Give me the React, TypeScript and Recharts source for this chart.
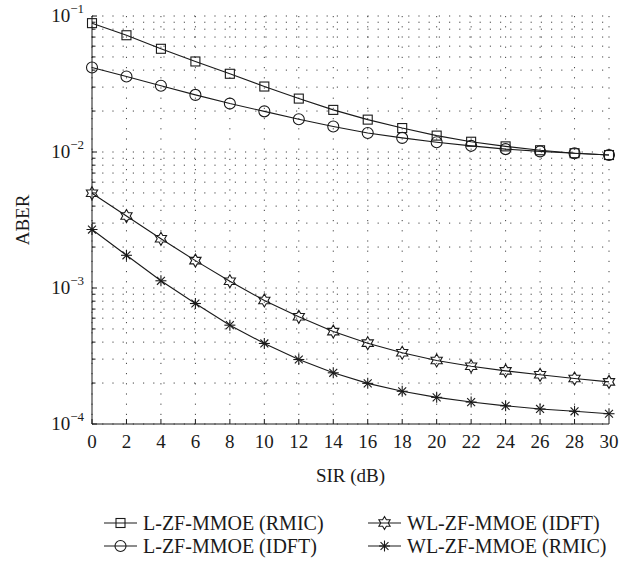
import React from 'react';
import { LineChart, Line, XAxis, YAxis, CartesianGrid, Legend } from 'recharts';

const sirDb = [0, 2, 4, 6, 8, 10, 12, 14, 16, 18, 20, 22, 24, 26, 28, 30];

const lzfRmic = [0.0886, 0.0722, 0.0574, 0.0463, 0.0376, 0.0303, 0.0247, 0.0204, 0.0173, 0.015, 0.0132, 0.0119, 0.011, 0.0103, 0.0098, 0.0095];
const lzfIdft = [0.0418, 0.0359, 0.0307, 0.0263, 0.0227, 0.0199, 0.0174, 0.0154, 0.0138, 0.0127, 0.0118, 0.0111, 0.0105, 0.0101, 0.0098, 0.0095];
const wlzfIdft = [0.00498, 0.00338, 0.0023, 0.00159, 0.00112, 0.00081, 0.000614, 0.000478, 0.000393, 0.000334, 0.000293, 0.000266, 0.000246, 0.00023, 0.000216, 0.000204];
const wlzfRmic = [0.00269, 0.00174, 0.00113, 0.000769, 0.000533, 0.000391, 0.000298, 0.000238, 0.000199, 0.000174, 0.000157, 0.000145, 0.000136, 0.000129, 0.000124, 0.000119];

const yTicks = [
  0.0001, 0.0002, 0.0003, 0.0004, 0.0005, 0.0006, 0.0007, 0.0008, 0.0009,
  0.001, 0.002, 0.003, 0.004, 0.005, 0.006, 0.007, 0.008, 0.009,
  0.01, 0.02, 0.03, 0.04, 0.05, 0.06, 0.07, 0.08, 0.09, 0.1,
];
const decadeLabels: Record<string, string> = { '0.0001': '−4', '0.001': '−3', '0.01': '−2', '0.1': '−1' };

const data = sirDb.map((sir, i) => ({
  sir,
  lRmic: lzfRmic[i],
  lIdft: lzfIdft[i],
  wlIdft: wlzfIdft[i],
  wlRmic: wlzfRmic[i],
}));

const INK = '#1a1a1a';
const FONT = 'Liberation Serif';
const txt = { fontFamily: FONT };

type Shape = 'square' | 'circle' | 'hexagram' | 'asterisk';

const Marker = ({ cx, cy, shape }: { cx: number; cy: number; shape: Shape }) => {
  if (shape === 'square') {
    return <rect x={cx - 4.5} y={cy - 4.5} width={9} height={9} fill="none" stroke={INK} strokeWidth={1.1} />;
  }
  if (shape === 'circle') {
    return <circle cx={cx} cy={cy} r={5.5} fill="none" stroke={INK} strokeWidth={1.1} />;
  }
  if (shape === 'hexagram') {
    const r = 6.5;
    const ri = r / Math.sqrt(3);
    const pts: string[] = [];
    for (let k = 0; k < 12; k++) {
      const a = (Math.PI / 6) * k - Math.PI / 2;
      const rr = k % 2 === 0 ? r : ri;
      pts.push(`${cx + rr * Math.cos(a)},${cy + rr * Math.sin(a)}`);
    }
    return <polygon points={pts.join(' ')} fill="none" stroke={INK} strokeWidth={1.1} />;
  }
  const r = 5.5;
  const d = r * 0.72;
  return (
    <g stroke={INK} strokeWidth={1.1}>
      <line x1={cx} y1={cy - r} x2={cx} y2={cy + r} />
      <line x1={cx - r} y1={cy} x2={cx + r} y2={cy} />
      <line x1={cx - d} y1={cy - d} x2={cx + d} y2={cy + d} />
      <line x1={cx - d} y1={cy + d} x2={cx + d} y2={cy - d} />
    </g>
  );
};

const dotOf = (shape: Shape) => (props: any) => (
  <Marker key={`${shape}-${props.index}`} cx={props.cx} cy={props.cy} shape={shape} />
);

const LeftTick = (props: any) => {
  const { x, y, payload } = props;
  const sup = decadeLabels[String(payload.value)];
  return (
    <g>
      <line x1={x} y1={y} x2={x + (sup ? 5 : 3.5)} y2={y} stroke={INK} strokeWidth={1} />
      {sup && (
        <text x={x - 8} y={y + 6} textAnchor="end" style={txt} fontSize={19} fill={INK}>
          10<tspan dy={-9} fontSize={13}>{sup}</tspan>
        </text>
      )}
    </g>
  );
};

const RightTick = (props: any) => {
  const { x, y, payload } = props;
  const major = !!decadeLabels[String(payload.value)];
  return <line x1={x} y1={y} x2={x - (major ? 5 : 3.5)} y2={y} stroke={INK} strokeWidth={1} />;
};

const BottomTick = (props: any) => {
  const { x, y, payload } = props;
  return (
    <g>
      <line x1={x} y1={y} x2={x} y2={y - 5} stroke={INK} strokeWidth={1} />
      <text x={x} y={y + 24} textAnchor="middle" style={txt} fontSize={19} fill={INK}>
        {payload.value}
      </text>
    </g>
  );
};

const TopTick = (props: any) => {
  const { x, y } = props;
  return <line x1={x} y1={y} x2={x} y2={y + 5} stroke={INK} strokeWidth={1} />;
};

const legendItems: Array<{ label: string; shape: Shape }> = [
  { label: 'L-ZF-MMOE (RMIC)', shape: 'square' },
  { label: 'WL-ZF-MMOE (IDFT)', shape: 'hexagram' },
  { label: 'L-ZF-MMOE (IDFT)', shape: 'circle' },
  { label: 'WL-ZF-MMOE (RMIC)', shape: 'asterisk' },
];

const LegendBox = () => (
  <svg width={623} height={56} style={{ display: 'block' }}>
    {legendItems.map((item, i) => {
      const col = i % 2;
      const row = Math.floor(i / 2);
      const x0 = col === 0 ? 92 : 356;
      const cy = 13 + row * 23;
      return (
        <g key={item.label}>
          <line x1={x0} y1={cy} x2={x0 + 33} y2={cy} stroke={INK} strokeWidth={1.1} />
          <Marker cx={x0 + 16.5} cy={cy} shape={item.shape} />
          <text x={x0 + 39} y={cy + 6.5} style={txt} fontSize={20} fill={INK}>
            {item.label}
          </text>
        </g>
      );
    })}
  </svg>
);

export default function App() {
  return (
    <div style={{ position: 'absolute', left: 0, top: 0, background: '#fff', fontFamily: FONT }}>
      <LineChart width={623} height={562} data={data} margin={{ top: 16, right: 14, left: 12, bottom: 0 }}>
        <CartesianGrid xAxisId="b" yAxisId="l" stroke="#444" strokeDasharray="1.2 9" strokeWidth={1} />
        <XAxis
          xAxisId="b"
          dataKey="sir"
          type="number"
          domain={[0, 30]}
          ticks={sirDb}
          interval={0}
          height={60}
          tickLine={false}
          tickSize={0}
          tickMargin={0}
          axisLine={{ stroke: INK }}
          tick={<BottomTick />}
          label={{ value: 'SIR (dB)', position: 'insideBottom', offset: 2, style: txt, fontSize: 19, fill: INK }}
        />
        <XAxis
          xAxisId="t"
          orientation="top"
          dataKey="sir"
          type="number"
          domain={[0, 30]}
          ticks={sirDb}
          interval={0}
          height={0}
          tickLine={false}
          tickSize={0}
          tickMargin={0}
          axisLine={{ stroke: INK }}
          tick={<TopTick />}
        />
        <YAxis
          yAxisId="l"
          scale="log"
          domain={[0.0001, 0.1]}
          allowDataOverflow
          ticks={yTicks}
          interval={0}
          width={80}
          tickLine={false}
          tickSize={0}
          tickMargin={0}
          axisLine={{ stroke: INK }}
          tick={<LeftTick />}
          label={{ value: 'ABER', angle: -90, position: 'insideLeft', offset: 10, fontSize: 19, fill: INK, style: { textAnchor: 'middle', fontFamily: FONT } }}
        />
        <YAxis
          yAxisId="r"
          orientation="right"
          scale="log"
          domain={[0.0001, 0.1]}
          allowDataOverflow
          ticks={yTicks}
          interval={0}
          width={0}
          tickLine={false}
          tickSize={0}
          tickMargin={0}
          axisLine={{ stroke: INK }}
          tick={<RightTick />}
        />
        <Line xAxisId="b" yAxisId="l" dataKey="lRmic" name="L-ZF-MMOE (RMIC)" type="linear" stroke={INK} strokeWidth={1.1} dot={dotOf('square')} isAnimationActive={false} />
        <Line xAxisId="b" yAxisId="l" dataKey="lIdft" name="L-ZF-MMOE (IDFT)" type="linear" stroke={INK} strokeWidth={1.1} dot={dotOf('circle')} isAnimationActive={false} />
        <Line xAxisId="b" yAxisId="l" dataKey="wlIdft" name="WL-ZF-MMOE (IDFT)" type="linear" stroke={INK} strokeWidth={1.1} dot={dotOf('hexagram')} isAnimationActive={false} />
        <Line xAxisId="b" yAxisId="l" dataKey="wlRmic" name="WL-ZF-MMOE (RMIC)" type="linear" stroke={INK} strokeWidth={1.1} dot={dotOf('asterisk')} isAnimationActive={false} />
        <Legend verticalAlign="bottom" height={78} content={() => <LegendBox />} wrapperStyle={{ bottom: -26 }} />
      </LineChart>
    </div>
  );
}
